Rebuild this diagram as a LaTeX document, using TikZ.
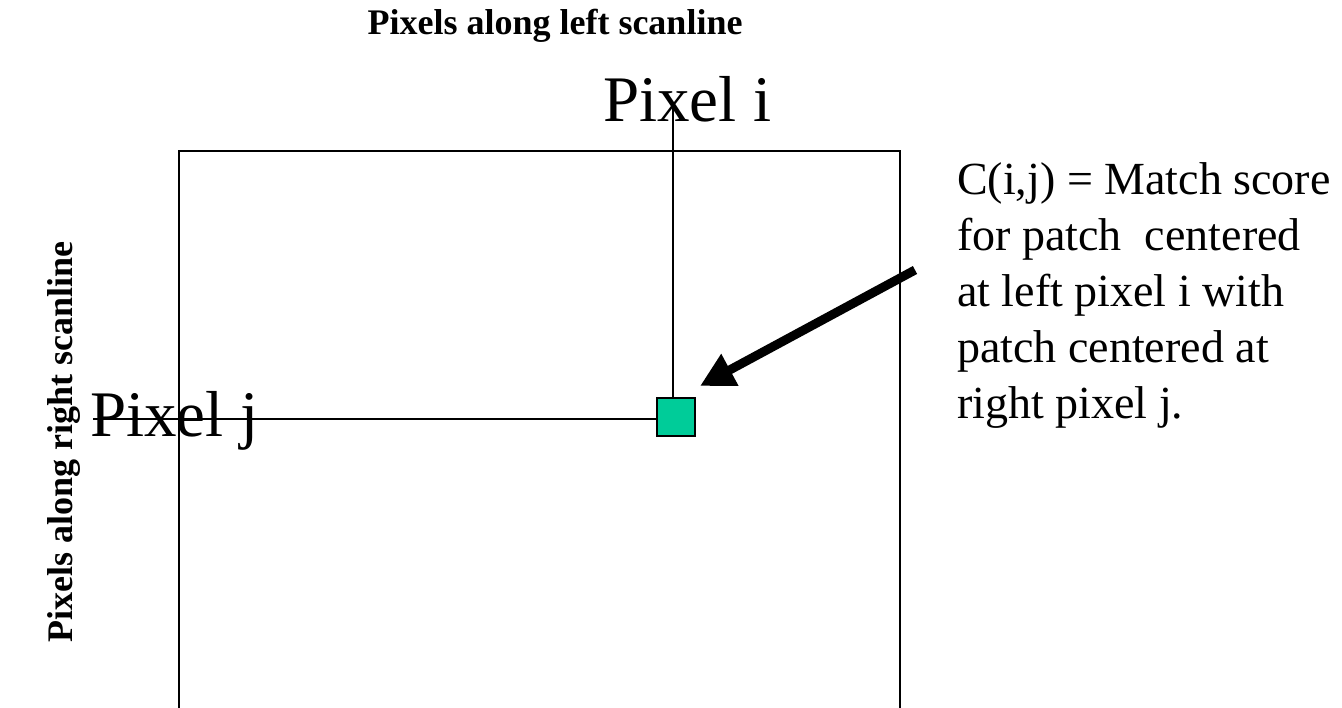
\documentclass[tikz,border=0pt]{standalone}
\usepackage{fontspec}
\setmainfont{Liberation Serif}
\usetikzlibrary{arrows.meta}
\tikzset{
  frame/.style={draw=black, line width=1.3pt},
  guide/.style={draw=black, line width=1.3pt},
  cell/.style={draw=black, line width=1.5pt, fill=cellgreen, minimum width=38pt, minimum height=38pt, inner sep=0pt},
  axislabel/.style={font=\fontsize{36}{40}\selectfont\bfseries, inner sep=0pt},
  pixlabel/.style={font=\fontsize{65}{70}\selectfont, inner sep=0pt},
  note/.style={font=\fontsize{46}{52}\selectfont, inner sep=0pt, anchor=base west},
  pointer/.style={draw=black, line width=9pt, -{Triangle[length=34pt,width=34pt]}}
}
\definecolor{cellgreen}{RGB}{0,204,153}
\begin{document}
\begin{tikzpicture}[x=1pt,y=-1pt]
\useasboundingbox (0,0) rectangle (1342,708);
% axis titles
\node[axislabel, anchor=base] (top) at (555,35) {Pixels along left scanline};
\node[axislabel, anchor=base, rotate=90] (side) at (72,442) {Pixels along right scanline};
% frame
\coordinate (fbl) at (179,708);
\coordinate (ftl) at (179,151);
\coordinate (ftr) at (900,151);
\coordinate (fbr) at (900,708);
\draw[frame] (fbl) -- (ftl) -- (ftr) -- (fbr);
% labels
\node[pixlabel, anchor=base west] (pi) at (603,122) {Pixel i};
\node[pixlabel, anchor=base west] (pj) at (90,437) {Pixel j};
% cell
\node[cell] (c) at (676,417) {};
\coordinate (vtop) at (673,103);
\coordinate (hleft) at (93,419);
\draw[guide] (vtop) -- (vtop |- c.north);
\draw[guide] (hleft) -- (hleft -| c.west);
% note
\node[note] (t1) at (957,195) {C(i,j) = Match score};
\node[note] (t2) at (957,251) {for patch\ \ centered};
\node[note] (t3) at (957,307) {at left pixel i with};
\node[note] (t4) at (957,363) {patch centered at};
\node[note] (t5) at (957,419) {right pixel j.};
% arrow
\coordinate (atail) at (915,270);
\coordinate (ahead) at (700,386);
\draw[pointer] (atail) -- (ahead);
\end{tikzpicture}
\end{document}
